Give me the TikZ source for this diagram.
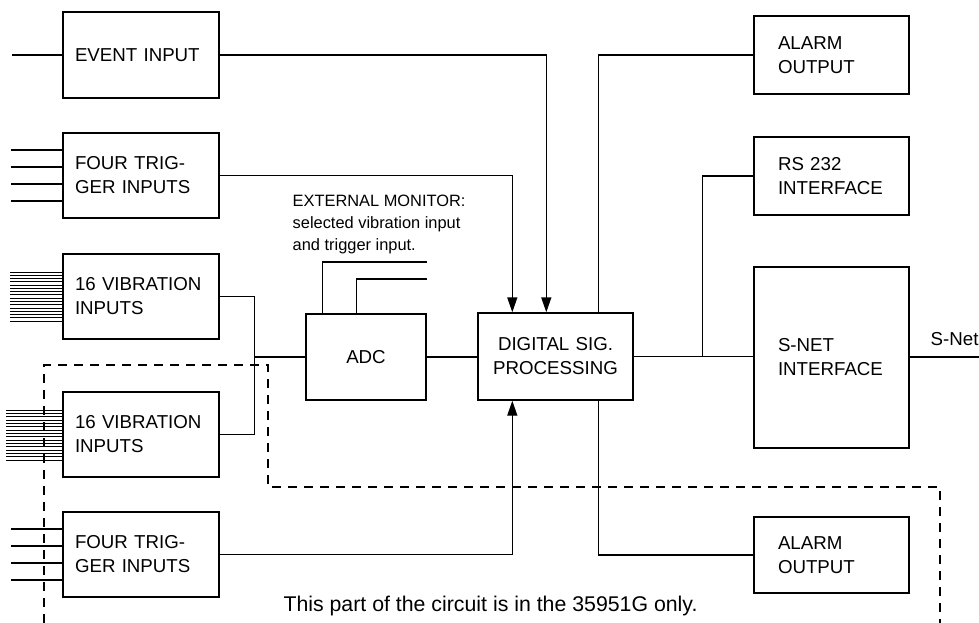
\documentclass[tikz,border=0pt]{standalone}
\usepackage{fontspec}
\setmainfont{Liberation Sans}
\usetikzlibrary{arrows.meta,positioning}
\hyphenpenalty=10000

\begin{document}
\begin{tikzpicture}[x=1pt,y=-1pt,line width=1.4pt,
    inbox/.style={draw,minimum width=156pt,minimum height=85pt,inner xsep=12pt,inner ysep=0pt,
                  text width=132pt,align=left,font=\fontsize{18.7}{24}\selectfont},
    outbox/.style={inbox,minimum width=155pt,minimum height=78pt,inner xsep=24pt,text width=107pt},
    midbox/.style={inbox,inner xsep=0pt,align=center},
    feed/.style={-{Triangle[length=15pt,width=10pt]}},
    pinline/.style={line width=0.9pt},
    border/.style={dash pattern=on 9pt off 7pt}]
  \useasboundingbox (0,0) rectangle (979,623);

  % input side
  \node[inbox,minimum height=86pt] (event) at (141,55) {EVENT INPUT};
  \node[inbox] (trigA) at (141,175.5) {FOUR TRIG-\\GER INPUTS};
  \node[inbox] (vibA) at (141,296.5) {16 VIBRATION\\INPUTS};
  \node[inbox] (vibB) at (141,434.5) {16 VIBRATION\\INPUTS};
  \node[inbox] (trigB) at (141,554.5) {FOUR TRIG-\\GER INPUTS};

  % processing
  \node[midbox,minimum width=120pt,text width=120pt,minimum height=86pt] (adc) at (366,357) {ADC};
  \node[midbox,minimum width=155pt,text width=155pt,minimum height=87pt] (dsp) at (555.5,356.5) {DIGITAL SIG.\\PROCESSING};

  % output side
  \node[outbox] (alarmA) at (831.5,55) {ALARM\\OUTPUT};
  \node[outbox] (rs) at (831.5,176) {RS 232\\INTERFACE};
  \node[outbox,minimum height=181pt] (snet) at (831.5,357.5) {S-NET\\INTERFACE};
  \node[outbox,minimum height=76pt] (alarmB) at (831.5,555) {ALARM\\OUTPUT};

  \node[anchor=west,inner sep=0pt,align=left,font=\fontsize{16.4}{22}\selectfont] (monitor) at (292,224)
    {EXTERNAL MONITOR:\\selected vibration input\\and trigger input.};
  \node[anchor=west,inner sep=0pt,font=\fontsize{18.7}{24}\selectfont] (netlbl) at (930,339) {S-Net};
  \node[anchor=base,inner sep=0pt,font=\fontsize{21.3}{26}\selectfont] (note) at (490.5,611)
    {This part of the circuit is in the 35951G only.};

  % input stubs
  \coordinate (evin) at (12,55);
  \draw (evin) -- (event.west);
  \foreach \dy in {-25.5,-8.5,8.5,25.5} {
    \draw (trigA.west) ++(0,\dy) -- ++(-51,0);
    \draw (trigB.west) ++(0,\dy) -- ++(-51,0);
  }
  \foreach \i in {0,...,15} {
    \draw[pinline] (vibA.west) ++(0,-24.5+3.27*\i) -- ++(-52,0);
    \draw[pinline] (vibB.west) ++(0,-24.5+3.33*\i) -- ++(-56,0);
  }

  % connections
  \draw (vibA.east) -- ++(35,0) coordinate (join) |- (vibB.east);
  \draw (adc.west) -- (join |- adc.west);
  \draw (adc.east) -- (dsp.west |- adc.east);
  \coordinate (monA) at (427,262);
  \coordinate (monB) at (427,279);
  \draw (monA) -| ([xshift=17pt]adc.north west);
  \draw (monB) -| ([xshift=51pt]adc.north west);
  \draw[feed] (event.east) -| ([xshift=69pt]dsp.north west);
  \draw[feed] (trigA.east) -| ([xshift=35pt]dsp.north west);
  \draw[feed] (trigB.east) -| ([xshift=35pt]dsp.south west);
  \draw ([xshift=121pt]dsp.north west) |- (alarmA.west);
  \draw ([xshift=121pt]dsp.south west) |- (alarmB.west);
  \draw (dsp.east) -- (snet.west |- dsp.east);
  \draw (rs.west) -| ([xshift=69pt]dsp.east);
  \coordinate (netout) at (979,357);
  \draw (snet.east |- netout) -- (netout);

  % optional part
  \draw[border] (44,623) |- (268,365) |- (940,487) -- (940,623);
\end{tikzpicture}
\end{document}
